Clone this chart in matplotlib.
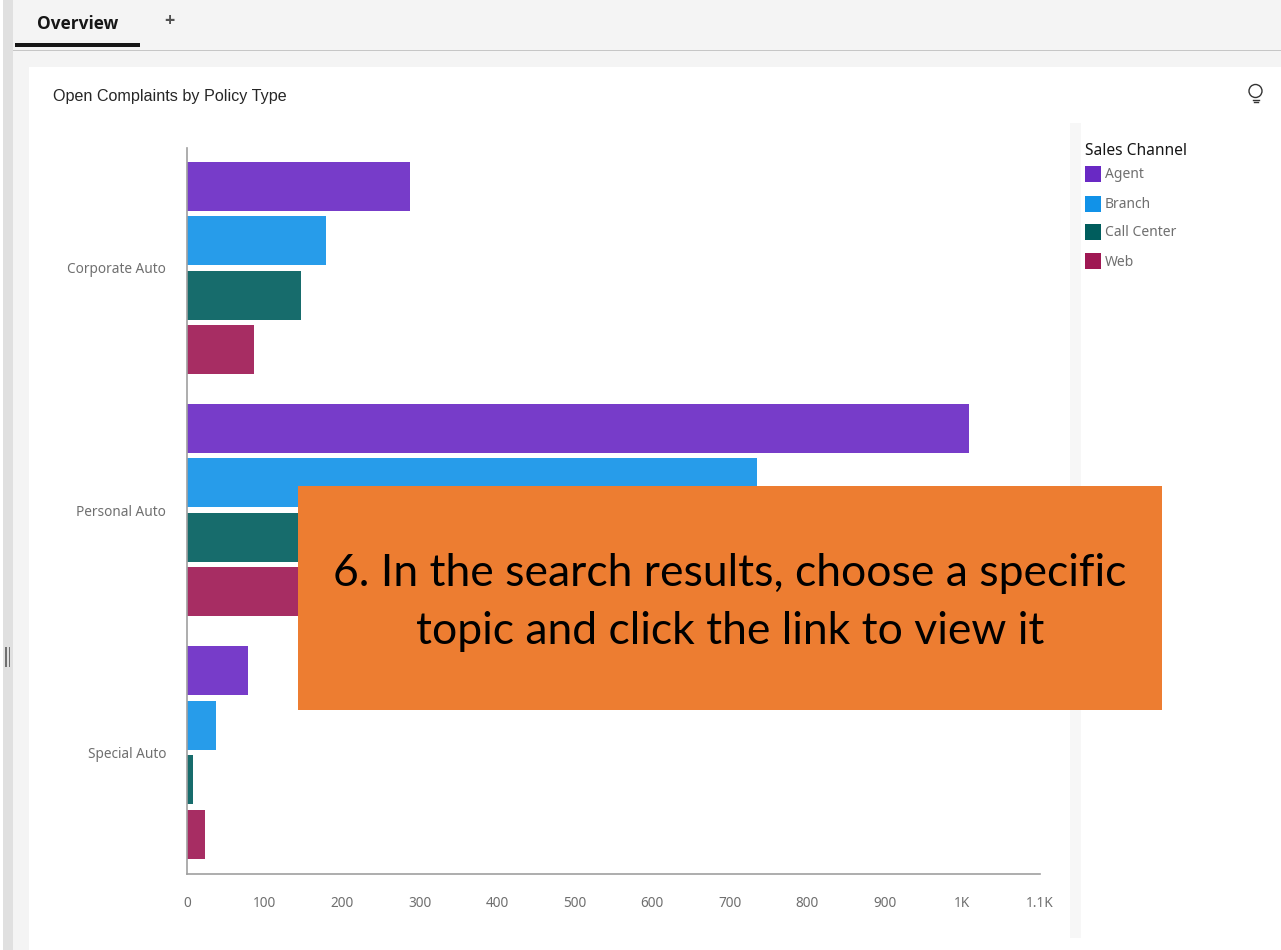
import matplotlib
matplotlib.use('Agg')
import matplotlib.pyplot as plt
from matplotlib.patches import Rectangle, Circle
import numpy as np

# values, Personal Auto call center / web are hidden behind the box
policy_types = ['Corporate Auto', 'Personal Auto', 'Special Auto']
channels = ['Agent', 'Branch', 'Call Center', 'Web']
agent = [287, 1008, 79]
branch = [179, 735, 37]
call_center = [147, 560, 8]
web = [86, 330, 23]
x_ticks = [0, 100, 200, 300, 400, 500, 600, 700, 800, 900, 1000, 1100]
x_labels = ['0', '100', '200', '300', '400', '500', '600', '700', '800', '900', '1K', '1.1K']

colors = ['#6929c4', '#1192e8', '#005d5d', '#9f1853']
series = [agent, branch, call_center, web]

W, H = 1281, 950
fig = plt.figure(figsize=(W / 100, H / 100), dpi=100, facecolor='white')

# page background, in pixels
bg = fig.add_axes([0, 0, 1, 1], zorder=0)
bg.set_xlim(0, W)
bg.set_ylim(H, 0)
bg.axis('off')
bg.add_patch(Rectangle((3, 0), 10, H, color='#e0e0e0', lw=0))
bg.add_patch(Rectangle((13, 0), W - 13, H, color='#f4f4f4', lw=0))
bg.add_patch(Rectangle((29, 67), W - 29, H - 67, color='white', lw=0))
bg.add_patch(Rectangle((13, 49.5), W - 13, 1.5, color='#c6c6c6', lw=0))
bg.add_patch(Rectangle((15, 43), 125, 3.5, color='#161616', lw=0))
bg.add_patch(Rectangle((1070, 123), 11, 815, color='#f7f7f7', lw=0))
bg.add_patch(Rectangle((5, 647), 1.5, 20, color='#707070', lw=0))
bg.add_patch(Rectangle((8.5, 647), 1.5, 20, color='#707070', lw=0))
bg.text(37, 24, 'Overview', fontsize=12.45, fontweight='bold', family='Open Sans',
        color='#161616', va='center')
bg.text(169, 21, '+', fontsize=13, fontweight='bold', family='Open Sans', color='#525252',
        va='center', ha='center')
bg.text(53, 96.5, 'Open Complaints by Policy Type', fontsize=11.65, family='Liberation Sans',
        color='#262626', va='center')

# chart
left, right, top, bottom = 187, 1040, 148, 874
ax = fig.add_axes([left / W, 1 - bottom / H, (right - left) / W, (bottom - top) / H], zorder=1)
ax.patch.set_alpha(0)
y = np.arange(len(policy_types))
step = 0.2247
for i, vals in enumerate(series):
    ax.barh(y + (i - 1.5) * step, vals, height=0.202, color=colors[i], alpha=0.91,
            label=channels[i])
ax.set_xlim(0, 1100)
ax.set_ylim(2.502, -0.495)
ax.set_yticks(y, policy_types)
ax.set_xticks(x_ticks, x_labels)
ax.tick_params(axis='both', length=0, colors='#6f6f6f', labelsize=9.8)
ax.tick_params(axis='x', pad=16)
ax.tick_params(axis='y', pad=15)
for lab in ax.get_xticklabels() + ax.get_yticklabels():
    lab.set_family('Noto Sans')
for s in ['top', 'right']:
    ax.spines[s].set_visible(False)
for s in ['left', 'bottom']:
    ax.spines[s].set_color('#a0a0a0')
    ax.spines[s].set_linewidth(1.2)

# legend, lightbulb and orange callout on top
fg = fig.add_axes([0, 0, 1, 1], zorder=2)
fg.set_xlim(0, W)
fg.set_ylim(H, 0)
fg.axis('off')
fg.text(1085, 151, 'Sales Channel', fontsize=11.2, family='Noto Sans', color='#161616', va='center')
legend_y = [174, 203.5, 232, 261]
for name, col, ly in zip(channels, colors, legend_y):
    fg.add_patch(Rectangle((1085, ly - 8), 16, 16, color=col, lw=0))
    fg.text(1105, ly + 1, name, fontsize=10, family='Noto Sans', color='#6f6f6f', va='center')

fg.add_patch(Circle((1255.5, 91), 6.5, fill=False, ec='#333333', lw=1))
fg.plot([1252.5, 1258.5], [99.5, 99.5], color='#333333', lw=1)
fg.plot([1253.5, 1257.5], [101.5, 101.5], color='#333333', lw=1)

fg.add_patch(Rectangle((298, 486), 864, 224, color='#ed7d31', lw=0))
fg.text(730, 573, '6. In the search results, choose a specific', fontsize=32, family='Lato',
        color='black', ha='center', va='center')
fg.text(730, 632, 'topic and click the link to view it', fontsize=32, family='Lato',
        color='black', ha='center', va='center')

fig.savefig('out.png', dpi=100)
